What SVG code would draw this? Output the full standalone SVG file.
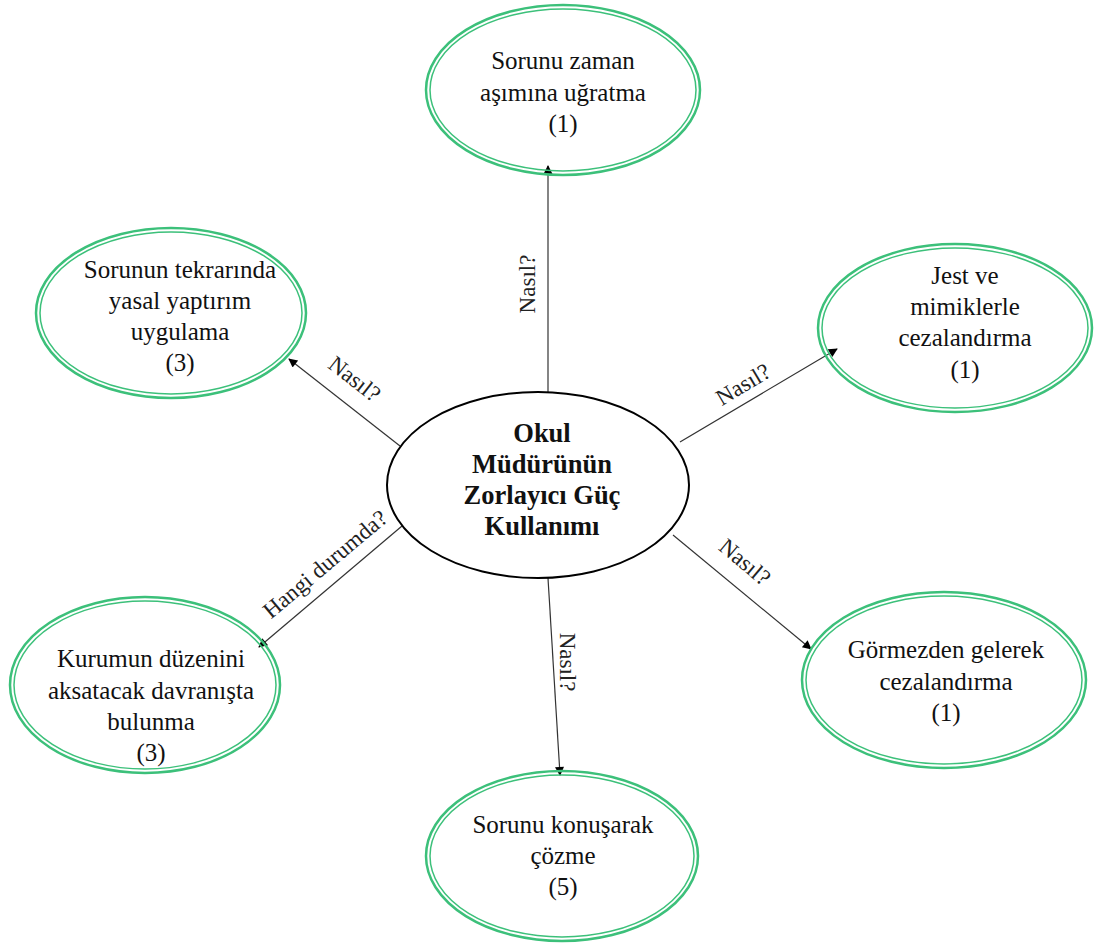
<svg xmlns="http://www.w3.org/2000/svg" width="1097" height="945" viewBox="0 0 1097 945">
<defs>
<style>
.o{fill:none;stroke:#3cc07a;stroke-width:2.5}
.i{fill:none;stroke:#3cc07a;stroke-width:1.5}
.c{fill:#fff;stroke:#000;stroke-width:2}
.l{stroke:#333;stroke-width:1.2;fill:none;marker-end:url(#a)}
</style>
<marker id="a" viewBox="0 0 10 10" refX="9" refY="5" markerWidth="11" markerHeight="9" markerUnits="userSpaceOnUse" orient="auto"><path d="M0,0 L10,5 L0,10 z" fill="#000"/></marker>
</defs>
<rect width="1097" height="945" fill="#fff"/>
<g font-family="'Liberation Serif', 'Times New Roman', serif" text-anchor="middle">
<g id="connectors" font-size="23" fill="#222">
<line class="l" x1="548" y1="392" x2="548" y2="166"/>
<text transform="translate(535,284) rotate(-90)">Nasıl?</text>
<line class="l" x1="400" y1="446" x2="289" y2="359"/>
<text transform="translate(350,385) rotate(38)">Nasıl?</text>
<line class="l" x1="680" y1="442" x2="837" y2="349"/>
<text transform="translate(747,391) rotate(-31)">Nasıl?</text>
<line class="l" x1="402" y1="526" x2="259" y2="647"/>
<text transform="translate(330,570) rotate(-40)">Hangi durumda?</text>
<line class="l" x1="673" y1="535" x2="811" y2="649"/>
<text transform="translate(740,568) rotate(40)">Nasıl?</text>
<line class="l" x1="548" y1="578" x2="560" y2="775"/>
<text transform="translate(560,662) rotate(90)">Nasıl?</text>
</g>
<g font-size="25" fill="#111">
<g id="center" font-weight="bold" font-size="26.5">
<ellipse class="c" cx="538" cy="485" rx="151" ry="93"/>
<text x="542" y="442">Okul</text>
<text x="542" y="473">Müdürünün</text>
<text x="542" y="504">Zorlayıcı Güç</text>
<text x="542" y="535">Kullanımı</text>
</g>
<g id="top">
<ellipse class="o" cx="563" cy="90" rx="137" ry="85"/>
<ellipse class="i" cx="563" cy="90" rx="133" ry="81"/>
<text x="563" y="69">Sorunu zaman</text>
<text x="563" y="101">aşımına uğratma</text>
<text x="563" y="132">(1)</text>
</g>
<g id="lefttop">
<ellipse class="o" cx="171" cy="313" rx="135" ry="85"/>
<ellipse class="i" cx="171" cy="313" rx="131" ry="81"/>
<text x="180" y="278">Sorunun tekrarında</text>
<text x="180" y="309">yasal yaptırım</text>
<text x="180" y="340">uygulama</text>
<text x="180" y="371">(3)</text>
</g>
<g id="righttop">
<ellipse class="o" cx="955" cy="328" rx="137" ry="84"/>
<ellipse class="i" cx="955" cy="328" rx="133" ry="80"/>
<text x="965" y="284">Jest ve</text>
<text x="965" y="315">mimiklerle</text>
<text x="965" y="346">cezalandırma</text>
<text x="965" y="378">(1)</text>
</g>
<g id="leftbottom">
<ellipse class="o" cx="145" cy="685" rx="135" ry="88"/>
<ellipse class="i" cx="145" cy="685" rx="131" ry="84"/>
<text x="151" y="667">Kurumun düzenini</text>
<text x="151" y="699">aksatacak davranışta</text>
<text x="151" y="730">bulunma</text>
<text x="151" y="761">(3)</text>
</g>
<g id="rightbottom">
<ellipse class="o" cx="944" cy="680" rx="142" ry="88"/>
<ellipse class="i" cx="944" cy="680" rx="138" ry="84"/>
<text x="946" y="658">Görmezden gelerek</text>
<text x="946" y="690">cezalandırma</text>
<text x="946" y="721">(1)</text>
</g>
<g id="bottom">
<ellipse class="o" cx="562" cy="856" rx="136" ry="85"/>
<ellipse class="i" cx="562" cy="856" rx="132" ry="81"/>
<text x="563" y="833">Sorunu konuşarak</text>
<text x="563" y="864">çözme</text>
<text x="563" y="895">(5)</text>
</g>
</g>
</g>
</svg>
